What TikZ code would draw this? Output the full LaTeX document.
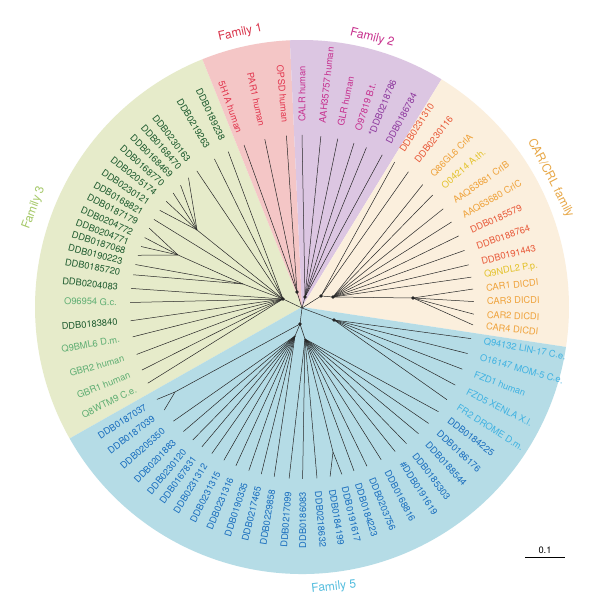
\documentclass[tikz,border=0pt]{standalone}
\usepackage{fontspec}
\setmainfont{TeX Gyre Heros}
\usetikzlibrary{calc}
\definecolor{pinkbg}{HTML}{F4C6C6}
\definecolor{lavbg}{HTML}{DCC6E2}
\definecolor{beigebg}{HTML}{FBEFDD}
\definecolor{bluebg}{HTML}{B5DCE6}
\definecolor{greenbg}{HTML}{E6EBCA}
\definecolor{fOne}{HTML}{E2374F}
\definecolor{fTwoM}{HTML}{C62F8E}
\definecolor{fTwoP}{HTML}{8E3A9E}
\definecolor{carR}{HTML}{E85A3A}
\definecolor{carO}{HTML}{EFA23A}
\definecolor{carY}{HTML}{E3C22A}
\definecolor{fFiveC}{HTML}{3FB2E2}
\definecolor{fFiveB}{HTML}{1A6EBE}
\definecolor{fThreeD}{HTML}{1E5B2F}
\definecolor{fThreeM}{HTML}{5FAE73}
\definecolor{labOne}{HTML}{D9354C}
\definecolor{labTwo}{HTML}{C8318E}
\definecolor{labCar}{HTML}{E8A848}
\definecolor{labThree}{HTML}{A6C96A}
\definecolor{labFive}{HTML}{55BEDF}
\newcommand{\leafR}[5]{%
  \coordinate (#1) at ($(C)+(#2:172)$);
  \draw[br] (#3) -- (#1);
  \node[lab,text=#4,anchor=west,rotate=#2] (#1l) at ($(C)+(#2:185)$) {#5};}
\newcommand{\leafL}[5]{%
  \coordinate (#1) at ($(C)+(#2:172)$);
  \draw[br] (#3) -- (#1);
  \node[lab,text=#4,anchor=east,rotate=#2+180] (#1l) at ($(C)+(#2:185)$) {#5};}
\newcommand{\sector}[3]{%
  \fill[#1] (C) -- ($(C)+(#2:267)$) arc[start angle=#2, end angle=#3, radius=267] -- cycle;}
\begin{document}
\begin{tikzpicture}[x=1pt,y=1pt,
  br/.style={line width=0.5pt, draw=black!85},
  lab/.style={font=\fontsize{9.3}{11}\selectfont, inner sep=0pt},
  famlab/.style={font=\fontsize{12}{14}\selectfont, inner sep=0pt},
  dotn/.style={circle, fill=black!85, inner sep=0pt, minimum size=3.6pt}]
\useasboundingbox (0,0) rectangle (600,612);
\fill[white] (0,0) rectangle (600,612);
\coordinate (C) at (302,305);
% sectors
\sector{greenbg}{111.9}{209.5}
\sector{pinkbg}{92.6}{111.9}
\sector{lavbg}{58.5}{92.6}
\sector{beigebg}{-8.6}{58.5}
\sector{bluebg}{-150.5}{-8.6}
% family labels
\node[famlab,text=labOne,rotate=12.7] (fam1) at ($(C)+(102.7:281)$) {Family 1};
\node[famlab,text=labTwo,rotate=-14.6] (fam2) at ($(C)+(75.4:278)$) {Family 2};
\node[famlab,text=labCar,rotate=-62.6] (famc) at ($(C)+(27.4:280)$) {CAR/CRL family};
\node[famlab,text=labThree,rotate=69.7] (fam3) at ($(C)+(159.7:286)$) {Family 3};
\node[famlab,text=labFive,rotate=6.5] (fam5) at ($(C)+(-83.5:282)$) {Family 5};
% internal nodes
\coordinate (R) at (302,304);
\coordinate (n1) at (297,320);
\coordinate (n2) at (305,315);
\coordinate (c1) at (321,316);
\coordinate (c2) at (333,315);
\coordinate (c3) at (413,314);
\coordinate (g1) at (283,313);
\coordinate (g5) at (243,328);
\coordinate (g2) at (178,357);
\coordinate (g3) at (197,382);
\coordinate (f1) at (300,288);
\coordinate (f2) at (334,292);
\coordinate (f3) at (295,276);
\coordinate (f4) at (305,273);
\coordinate (f5) at (175,220);
\coordinate (f6) at (333,160);
\draw[br] (R) -- (n1);
\draw[br] (R) -- (n2);
\draw[br] (R) -- (c1) -- (c2) -- (c3);
\draw[br] (R) -- (g1) -- (g5) -- (g2);
\draw[br] (g1) -- (g3);
\draw[br] (R) -- (f1);
\draw[br] (R) -- (f2);
\draw[br] (f1) -- (f3);
\draw[br] (f1) -- (f4) -- (f6);
\draw[br] (f1) -- (f5);
% Family 1
\leafL{a1}{109.7}{n1}{fOne}{5H1A human}
\leafL{a2}{102.5}{n1}{fOne}{PAR1 human}
\leafL{a3}{95.2}{n1}{fOne}{OPSD human}
% Family 2
\leafR{b1}{90.0}{n2}{fTwoM}{CALR human}
\leafR{b2}{83.7}{n2}{fTwoM}{AAH35757 human}
\leafR{b3}{78.0}{n2}{fTwoM}{GLR human}
\leafR{b4}{72.4}{n2}{fTwoM}{O97819 B.t.}
\leafR{b5}{68.0}{n2}{fTwoP}{*DDB0218786}
\leafR{b6}{62.2}{n2}{fTwoP}{DDB0186784}
% CAR/CRL
\leafR{k1}{57.4}{c1}{carR}{DDB0231310}
\leafR{k2}{51.8}{c1}{carR}{DDB0230116}
\leafR{k3}{45.4}{c2}{carO}{Q86GL6 CrlA}
\leafR{k4}{40.6}{c2}{carY}{O04214 A.th.}
\leafR{k5}{34.8}{c2}{carO}{AAQ63681 CrlB}
\leafR{k6}{29.6}{c2}{carO}{AAQ63680 CrlC}
\leafR{k7}{24.4}{c2}{carR}{DDB0185579}
\leafR{k8}{19.2}{c2}{carR}{DDB0188764}
\leafR{k9}{14.2}{c2}{carR}{DDB0191443}
\leafR{k10}{10.0}{c2}{carY}{Q9NDL2 P.p.}
\leafR{k11}{6.0}{c3}{carO}{CAR1 DICDI}
\leafR{k12}{1.8}{c3}{carO}{CAR3 DICDI}
\leafR{k13}{-2.4}{c3}{carO}{CAR2 DICDI}
\leafR{k14}{-6.0}{c3}{carO}{CAR4 DICDI}
% Family 5
\leafR{e1}{-10.6}{f2}{fFiveC}{Q94132 LIN-17 C.e.}
\leafR{e2}{-15.7}{f2}{fFiveC}{O16147 MOM-5 C.e.}
\leafR{e3}{-21.2}{f2}{fFiveC}{FZD1 human}
\leafR{e4}{-27.0}{f2}{fFiveC}{FZD5 XENLA X.l.}
\leafR{e5}{-32.6}{f2}{fFiveC}{FR2 DROME D.m.}
\leafR{e6}{-37.5}{f4}{fFiveB}{DDB0184225}
\leafR{e7}{-42.6}{f4}{fFiveB}{DDB0186176}
\leafR{e8}{-47.4}{f4}{fFiveB}{DDB0188544}
\leafR{e9}{-52.6}{f4}{fFiveB}{DDB0185303}
\leafR{e10}{-57.2}{f4}{fFiveB}{\#DDB0191619}
\leafR{e11}{-62.6}{f4}{fFiveB}{DDB0168816}
\leafR{e12}{-67.8}{f4}{fFiveB}{DDB0203756}
\leafR{e13}{-72.4}{f4}{fFiveB}{DDB0184223}
\leafR{e14}{-76.6}{f6}{fFiveB}{DDB0191617}
\leafR{e15}{-80.6}{f6}{fFiveB}{DDB0184199}
\leafR{e16}{-85.0}{f4}{fFiveB}{DDB0218632}
\leafL{e17}{-89.8}{f4}{fFiveB}{DDB0186083}
\leafL{e18}{-94.3}{f4}{fFiveB}{DDB0217099}
\leafL{e19}{-99.3}{f3}{fFiveB}{DDB0229858}
\leafL{e20}{-103.7}{f3}{fFiveB}{DDB0217465}
\leafL{e21}{-108.0}{f3}{fFiveB}{DDB0190335}
\leafL{e22}{-112.6}{f3}{fFiveB}{DDB0231316}
\leafL{e23}{-117.0}{f3}{fFiveB}{DDB0231315}
\leafL{e24}{-121.6}{f3}{fFiveB}{DDB0231312}
\leafL{e25}{-125.6}{f3}{fFiveB}{DDB0167831}
\leafL{e26}{-129.4}{f3}{fFiveB}{DDB0230120}
\leafL{e27}{-133.6}{f3}{fFiveB}{DDB0201883}
\leafL{e28}{-138.4}{f3}{fFiveB}{DDB0205350}
\leafL{e29}{-143.2}{f5}{fFiveB}{DDB0187039}
\leafL{e30}{-147.5}{f5}{fFiveB}{DDB0187037}
% Family 3
\leafL{h1}{206.3}{g1}{fThreeM}{Q8WTM9 C.e.}
\leafL{h2}{201.5}{g1}{fThreeM}{GBR1 human}
\leafL{h3}{196.0}{g1}{fThreeM}{GBR2 human}
\leafL{h4}{190.0}{g1}{fThreeM}{Q9BML6 D.m.}
\leafL{h5}{184.6}{g1}{fThreeD}{DDB0183840}
\leafL{h6}{178.5}{g1}{fThreeM}{O96954 G.c.}
\leafL{h7}{173.8}{g1}{fThreeD}{DDB0204083}
\leafL{h8}{169.2}{g5}{fThreeD}{DDB0185720}
\leafL{h9}{165.7}{g5}{fThreeD}{DDB0190223}
\leafL{h10}{162.5}{g2}{fThreeD}{DDB0187068}
\leafL{h11}{159.4}{g2}{fThreeD}{DDB0204771}
\leafL{h12}{156.2}{g2}{fThreeD}{DDB0204772}
\leafL{h13}{152.7}{g2}{fThreeD}{DDB0187179}
\leafL{h14}{149.4}{g1}{fThreeD}{DDB0168821}
\leafL{h15}{145.8}{g3}{fThreeD}{DDB0230121}
\leafL{h16}{142.1}{g3}{fThreeD}{DDB0205174}
\leafL{h17}{138.5}{g3}{fThreeD}{DDB0168770}
\leafL{h18}{134.9}{g3}{fThreeD}{DDB0168469}
\leafL{h19}{131.3}{g3}{fThreeD}{DDB0168470}
\leafL{h20}{127.7}{g1}{fThreeD}{DDB0230163}
\leafL{h21}{120.6}{g1}{fThreeD}{DDB0219263}
\leafL{h22}{115.4}{g1}{fThreeD}{DDB0189238}
% dots
\foreach \p in {n1,n2,c1,c2,c3,g1,f1,f2} \node[dotn] (\p d) at (\p) {};
% scale bar
\coordinate (sb1) at (525,55);
\coordinate (sb2) at (565,55);
\draw[line width=0.7pt] (sb1) -- (sb2);
\node[lab] (sbl) at (545,62) {0.1};
\end{tikzpicture}
\end{document}
